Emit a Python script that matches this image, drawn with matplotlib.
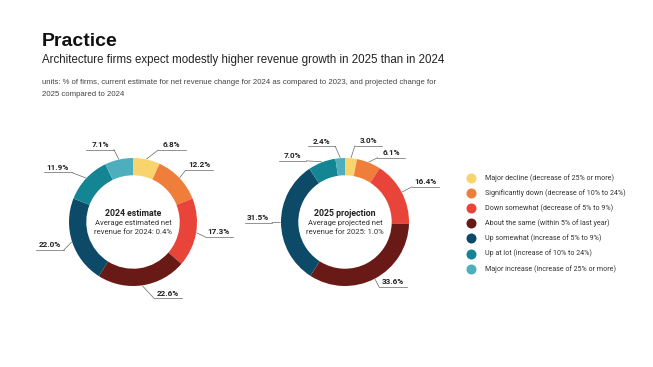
import matplotlib
matplotlib.use('Agg')
import matplotlib.pyplot as plt
import numpy as np

categories = [
    "Major decline (decrease of 25% or more)",
    "Significantly down (decrease of 10% to 24%)",
    "Down somewhat (decrease of 5% to 9%)",
    "About the same (within 5% of last year)",
    "Up somewhat (increase of 5% to 9%)",
    "Up at lot (increase of 10% to 24%)",
    "Major increase (increase of 25% or more)",
]
values_2024 = [6.8, 12.2, 17.3, 22.6, 22.0, 11.9, 7.1]
values_2025 = [3.0, 6.1, 16.4, 33.6, 31.5, 7.0, 2.4]
colors = ["#F8D46C", "#EF7E3B", "#E8443A", "#6A1A16", "#0C4A68", "#148592", "#4DAEBD"]

# label leader layout: (angle offset in degrees clockwise, elbow radius)
leader_2024 = [(7, 1.19), (-1, 1.15), (2, 1.15), (-7, 1.24), (-4, 1.17), (-4, 1.23), (-2, 1.17)]
leader_2025 = [(2, 1.2), (5, 1.125), (0, 1.18), (0, 1.15), (0, 1.14), (-11, 1.13), (-3, 1.19)]

W, H = 653, 367
fig = plt.figure(figsize=(W / 100, H / 100), dpi=100)
fig.patch.set_facecolor("white")

SANS = ["Liberation Sans", "DejaVu Sans"]
LBL = ["Roboto", "DejaVu Sans"]

# Titles
fig.text(42 / W, 1 - 42 / H, "Practice", fontsize=14, fontweight="bold",
         family=SANS, va="center", ha="left", color="#111111")
fig.text(42 / W, 1 - 60 / H,
         "Architecture firms expect modestly higher revenue growth in 2025 than in 2024",
         fontsize=8.3, family=SANS, va="center", ha="left", color="#222222")
fig.text(42 / W, 1 - 82 / H,
         "units: % of firms, current estimate for net revenue change for 2024 as compared to 2023, and projected change for",
         fontsize=5.55, family=SANS, va="center", ha="left", color="#444444")
fig.text(42 / W, 1 - 94 / H, "2025 compared to 2024",
         fontsize=5.55, family=SANS, va="center", ha="left", color="#444444")


def donut(cx, cy, vals, leaders, title, l1, l2):
    R = 64
    half = 2 * R
    ax = fig.add_axes([(cx - half) / W, 1 - (cy + half) / H, 2 * half / W, 2 * half / H])
    wedges, _ = ax.pie(vals, colors=colors, startangle=90, counterclock=False, radius=1,
                       wedgeprops=dict(width=0.27, linewidth=0))
    ax.set_xlim(-2, 2)
    ax.set_ylim(-2, 2)
    ax.set_aspect("equal")
    ax.axis("off")
    for w, v, (doff, re) in zip(wedges, vals, leaders):
        mid = (w.theta1 + w.theta2) / 2
        ang = np.deg2rad(mid)
        x0, y0 = np.cos(ang), np.sin(ang)
        ange = np.deg2rad(mid - doff)
        xe, ye = re * np.cos(ange), re * np.sin(ange)
        sgn = 1 if xe >= 0 else -1
        L = 0.43
        ax.plot([x0 * 1.01, xe], [y0 * 1.01, ye], color="#666666", lw=0.5, clip_on=False)
        ax.plot([xe, xe + sgn * L], [ye, ye], color="#666666", lw=0.5, clip_on=False)
        ax.text(xe + sgn * L / 2, ye + 0.03, f"{v:.1f}%", ha="center", va="bottom",
                fontsize=5.9, fontweight="bold", family=LBL, color="#222222")
    ax.text(0, 0.14, title, ha="center", va="center", fontsize=6.3, fontweight="bold",
            family=LBL, color="#222222")
    ax.text(0, -0.01, l1, ha="center", va="center", fontsize=5.5, family=LBL, color="#333333")
    ax.text(0, -0.16, l2, ha="center", va="center", fontsize=5.5, family=LBL, color="#333333")


donut(133, 222, values_2024, leader_2024, "2024 estimate",
      "Average estimated net", "revenue for 2024: 0.4%")
donut(345, 222, values_2025, leader_2025, "2025 projection",
      "Average projected net", "revenue for 2025: 1.0%")

# Legend
axl = fig.add_axes([0, 0, 1, 1])
axl.set_xlim(0, W)
axl.set_ylim(H, 0)
axl.axis("off")
for i, (c, lab) in enumerate(zip(colors, categories)):
    y = 178 + 15.1 * i
    axl.scatter([471], [y], s=52, color=c, linewidths=0)
    axl.text(485, y, lab, fontsize=5.1, family=LBL, va="center", ha="left", color="#333333")

fig.savefig("out.png", dpi=100, facecolor="white")
